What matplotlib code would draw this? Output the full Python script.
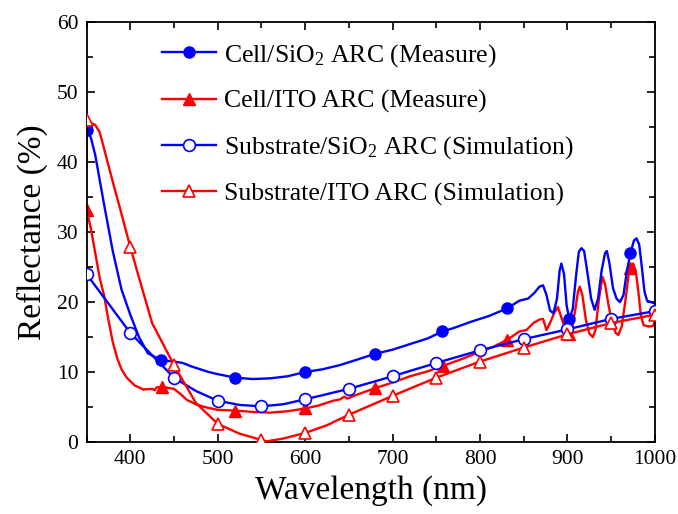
import numpy as np
import matplotlib
matplotlib.use("Agg")
import matplotlib.pyplot as plt
from matplotlib.ticker import MultipleLocator

plt.rcParams['font.family'] = ['Liberation Serif', 'DejaVu Serif']
plt.rcParams['mathtext.fontset'] = 'custom'
plt.rcParams['mathtext.rm'] = 'Liberation Serif'
plt.rcParams['mathtext.it'] = 'Liberation Serif:italic'

# Measured reflectance, cell with SiO2 ARC
cell_sio2_wl = [350, 350, 355, 360, 370, 380, 390, 400, 410, 420, 435, 450, 460, 470,
                480, 490, 500, 520, 540, 560, 580, 600, 620, 640, 660, 680, 700, 720,
                740, 757, 770, 790, 810, 831, 845, 855, 862, 868, 872, 876, 880, 884,
                888, 891, 893, 896, 899, 902, 906, 910, 913, 916, 919, 923, 927, 931,
                935, 939, 943, 945, 948, 952, 956, 960, 964, 968, 972, 976, 979, 982,
                985, 988, 991, 995, 1000]
cell_sio2_r = [39.5, 44.6, 43.5, 41.0, 34.0, 27.3, 21.8, 18.2, 15.0, 12.7, 11.7, 11.5,
               11.3, 10.8, 10.4, 10.0, 9.7, 9.2, 9.0, 9.1, 9.4, 10.0, 10.4, 11.0, 11.8,
               12.6, 13.2, 14.0, 14.8, 15.8, 16.3, 17.2, 18.0, 19.1, 20.2, 20.5, 21.3,
               22.2, 22.4, 21.0, 18.8, 18.4, 20.5, 24.5, 25.5, 24.0, 19.5, 17.6, 19.0,
               24.0, 27.2, 27.7, 27.3, 24.0, 20.5, 18.9, 20.5, 24.5, 27.0, 27.3, 25.5,
               22.0, 20.5, 20.0, 21.0, 24.5, 27.0, 28.8, 29.1, 28.2, 25.0, 21.5, 20.2,
               20.0, 19.8]
cell_sio2_marks = [350, 435, 520, 600, 680, 757, 831, 902, 972]

# Measured reflectance, cell with ITO ARC
cell_ito_wl = [350, 350, 355, 360, 365, 370, 375, 380, 385, 390, 396, 405, 415, 425,
               428, 430, 436, 445, 450, 458, 465, 475, 485, 500, 520, 540, 560, 580,
               600, 615, 632, 640, 645, 648, 660, 680, 700, 720, 740, 758, 780, 800,
               815, 831, 845, 853, 861, 868, 872, 876, 880, 885, 889, 893, 897, 902,
               905, 909, 912, 914, 917, 921, 925, 929, 932, 936, 940, 943, 947, 951,
               955, 958, 962, 966, 970, 972, 975, 978, 981, 984, 987, 993, 998, 1000]
cell_ito_r = [29.5, 33.2, 30.5, 27.0, 23.5, 21.0, 17.5, 14.3, 12.0, 10.4, 9.2, 8.1,
              7.5, 7.6, 7.4, 7.8, 7.9, 7.7, 7.6, 6.8, 6.0, 5.4, 5.0, 4.6, 4.5, 4.3,
              4.2, 4.4, 4.8, 5.2, 5.9, 6.1, 6.5, 6.2, 6.8, 7.7, 8.5, 9.4, 10.1, 10.9,
              11.9, 12.9, 13.6, 14.6, 15.8, 16.0, 17.0, 17.5, 17.6, 16.0, 17.0, 18.5,
              19.3, 17.8, 16.3, 15.5, 16.0, 19.0, 21.5, 22.2, 21.0, 17.5, 15.5, 15.0,
              16.0, 20.5, 23.6, 22.5, 19.5, 17.0, 15.6, 15.3, 16.5, 20.0, 24.0, 24.8,
              25.5, 24.5, 21.5, 18.0, 16.7, 16.5, 16.6, 17.3]
cell_ito_marks = [350, 436, 520, 600, 680, 758, 831, 902, 972]

# Simulated reflectance of bare substrates
sub_sio2_wl = [350, 375, 400, 425, 450, 475, 500, 525, 550, 575, 600, 650, 700, 750,
               800, 850, 900, 950, 1000]
sub_sio2_r = [24.0, 19.8, 15.6, 12.4, 9.2, 7.3, 5.9, 5.3, 5.1, 5.4, 6.1, 7.6, 9.4,
              11.3, 13.1, 14.7, 16.1, 17.6, 18.7]
sub_ito_wl = [350, 355, 360, 365, 372, 380, 390, 400, 410, 425, 450, 475, 500, 525,
              550, 556, 575, 600, 625, 650, 700, 750, 800, 850, 900, 950, 1000]
sub_ito_r = [46.0, 45.6, 45.3, 44.3, 41.0, 37.2, 32.6, 27.9, 23.5, 17.0, 11.0, 5.6,
             2.6, 1.2, 0.3, 0.1, 0.5, 1.3, 2.4, 3.9, 6.6, 9.2, 11.5, 13.5, 15.4, 17.0,
             18.2]
sim_marks = [350, 400, 450, 500, 550, 600, 650, 700, 750, 800, 850, 900, 950, 1000]

labels = ['Cell/SiO$_2$ ARC (Measure)', 'Cell/ITO ARC (Measure)',
          'Substrate/SiO$_2$ ARC (Simulation)', 'Substrate/ITO ARC (Simulation)']


def mark_index(wl, marks):
    idx = []
    for m in marks:
        cands = [i for i, w in enumerate(wl) if w == m]
        idx.append(cands[-1])
    return idx


fig = plt.figure(figsize=(6.78, 5.14), dpi=100)
ax = fig.add_axes([0.1276, 0.140, 0.8384, 0.817])

BLUE = '#0000ff'
RED = '#ff0000'

ax.plot(sub_sio2_wl, sub_sio2_r, color=BLUE, lw=1.7, marker='o', ms=8.5,
        mfc='white', mec=BLUE, mew=1.2, markevery=mark_index(sub_sio2_wl, sim_marks),
        label=labels[2], zorder=3)
ax.plot(sub_ito_wl, sub_ito_r, color=RED, lw=1.7, marker='^', ms=9,
        mfc='white', mec=RED, mew=1.2, markevery=mark_index(sub_ito_wl, sim_marks),
        label=labels[3], zorder=3)
ax.plot(cell_ito_wl, cell_ito_r, color=RED, lw=1.7, marker='^', ms=9,
        mfc=RED, mec=RED, markevery=mark_index(cell_ito_wl, cell_ito_marks),
        label=labels[1], zorder=2)
ax.plot(cell_sio2_wl, cell_sio2_r, color=BLUE, lw=1.7, marker='o', ms=8,
        mfc=BLUE, mec=BLUE, markevery=mark_index(cell_sio2_wl, cell_sio2_marks),
        label=labels[0], zorder=2)

ax.set_xlim(350, 1000)
ax.set_ylim(0, 60)
ax.xaxis.set_major_locator(MultipleLocator(100))
ax.xaxis.set_minor_locator(MultipleLocator(50))
ax.yaxis.set_major_locator(MultipleLocator(10))
ax.yaxis.set_minor_locator(MultipleLocator(5))
ax.tick_params(which='both', direction='in', top=True, right=True, width=1.2,
               labelsize=15.5, pad=6)
ax.tick_params(which='major', length=6)
ax.tick_params(which='minor', length=4)
for s in ax.spines.values():
    s.set_linewidth(1.3)

ax.set_xlabel('Wavelength (nm)', fontsize=24, labelpad=4)
ax.set_ylabel('Reflectance (%)', fontsize=24, labelpad=6)

handles, labs = ax.get_legend_handles_labels()
order = [labs.index(l) for l in labels]
ax.legend([handles[i] for i in order], [labs[i] for i in order],
          loc='upper left', bbox_to_anchor=(0.133, 0.953), frameon=False,
          fontsize=18.5, handlelength=2.1, handletextpad=0.3, labelspacing=0.82,
          borderaxespad=0, borderpad=0)

fig.savefig('out.png', dpi=100)
